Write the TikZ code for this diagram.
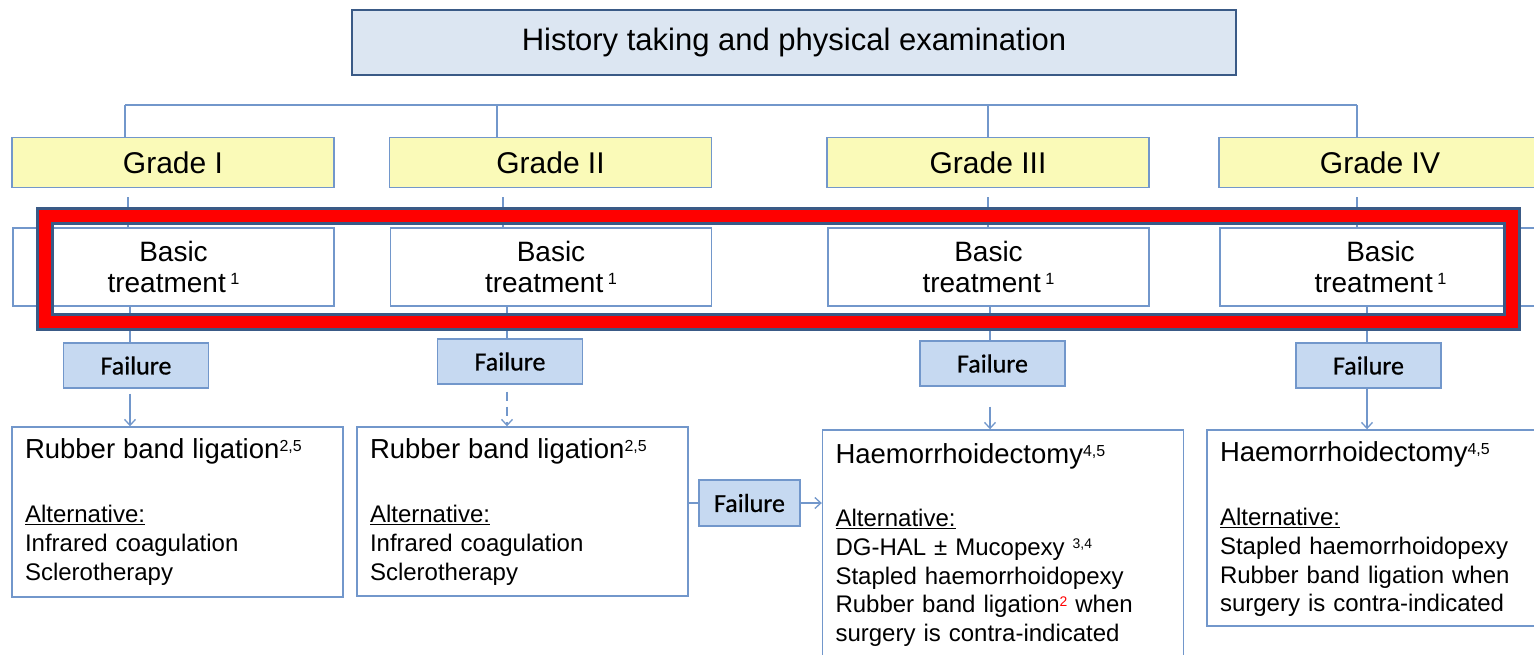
\documentclass[tikz,border=0pt]{standalone}
\usepackage{fontspec}
\setmainfont{Liberation Sans}
\newfontfamily\califont[FakeBold=0.7]{Carlito}
\usepackage{graphicx}
\usepackage{tikz}
\usetikzlibrary{positioning}
\usetikzlibrary{arrows.meta}
\usepackage{xcolor}
\definecolor{boxline}{HTML}{7297CB}
\definecolor{darkline}{HTML}{3A5A86}
\definecolor{titlefill}{HTML}{DCE6F2}
\definecolor{gradefill}{HTML}{FAFAB8}
\definecolor{failfill}{HTML}{C6D9F1}
\definecolor{framered}{HTML}{FF0000}
\setlength{\parindent}{0pt}
\newcommand{\supsc}[1]{\raisebox{0.27em}{\scalebox{0.58}{#1}}}

\begin{document}
\begin{tikzpicture}[x = 1pt, y = -1pt,
  every node/.style = {draw = boxline, line width = 1.4pt, inner sep = 0pt},
  head/.style = {draw = darkline, line width = 2.6pt, fill = titlefill,
    minimum width = 884pt, minimum height = 65pt, font = \fontsize{31}{36}\selectfont},
  grade/.style = {fill = gradefill, minimum width = 322pt, minimum height = 50pt,
    font = \fontsize{30}{34}\selectfont},
  basic/.style = {fill = white, minimum width = 321pt, minimum height = 78pt,
    align = center, font = \fontsize{28}{31}\selectfont},
  fail/.style = {fill = failfill, minimum width = 145pt, minimum height = 45pt,
    font = \califont\fontsize{26}{30}\selectfont},
  treat/.style = {fill = white},
  treattext/.style = {draw = none, anchor = north west, text width = 345pt,
    align = left, font = \fontsize{24}{28.7}\selectfont},
  link/.style = {draw = boxline, line width = 1.3pt},
  linkarrow/.style = {link, -{Straight Barb[length = 6pt, width = 11pt]}}
]
\useasboundingbox (0,0) rectangle (1534,654);

\node[head] (hist) at (794,42.5) {History taking and physical examination};

\node[grade] (g1) at (173,162.5) {Grade I};
\node[grade] (g2) at (550.5,162.5) {Grade II};
\node[grade] (g3) at (988,162.5) {Grade III};
\node[grade] (g4) at (1380,162.5) {Grade IV};

\node[basic] (b1) at (173.5,267) {Basic\\treatment\,\supsc{1}};
\node[basic] (b2) at (551,267) {Basic\\treatment\,\supsc{1}};
\node[basic] (b3) at (988.5,267) {Basic\\treatment\,\supsc{1}};
\node[basic] (b4) at (1380.5,267) {Basic\\treatment\,\supsc{1}};

\node[fail] (f1) at (136,365.5) {Failure};
\node[fail] (f2) at (510,361.5) {Failure};
\node[fail] (f3) at (992.5,363.5) {Failure};
\node[fail] (f4) at (1368.5,365.5) {Failure};

\node[treat, minimum width = 331pt, minimum height = 170pt] (t1) at (177.5,512) {};
\node[treat, minimum width = 331pt, minimum height = 169pt] (t2) at (522.5,511.5) {};
\node[treat, minimum width = 361pt, minimum height = 250pt] (t3) at (1003,555) {};
\node[treat, minimum width = 338pt, minimum height = 196pt] (t4) at (1376,528) {};
\node[fail, minimum width = 101pt, minimum height = 46pt] (fm) at (749.5,503) {Failure};

\node[treattext] (tx1) at ([shift = {(13,12)}]t1.north west) {%
  {\fontsize{27.5}{32}\selectfont Rubber band ligation\supsc{2,5}\par}
  \vspace{35pt}
  \underline{Alternative:}\\
  Infrared coagulation\\
  Sclerotherapy};
\node[treattext] (tx2) at ([shift = {(13,12)}]t2.north west) {%
  {\fontsize{27.5}{32}\selectfont Rubber band ligation\supsc{2,5}\par}
  \vspace{35pt}
  \underline{Alternative:}\\
  Infrared coagulation\\
  Sclerotherapy};
\node[treattext] (tx3) at ([shift = {(13,14)}]t3.north west) {%
  {\fontsize{27.5}{32}\selectfont Haemorrhoidectomy\supsc{4,5}\par}
  \vspace{34pt}
  \underline{Alternative:}\\
  DG-HAL ± Mucopexy \supsc{3,4}\\
  Stapled haemorrhoidopexy\\
  Rubber band ligation\supsc{\textcolor{framered}{2}} when\\
  surgery is contra-indicated};
\node[treattext] (tx4) at ([shift = {(13,12)}]t4.north west) {%
  {\fontsize{27.5}{32}\selectfont Haemorrhoidectomy\supsc{4,5}\par}
  \vspace{35pt}
  \underline{Alternative:}\\
  Stapled haemorrhoidopexy\\
  Rubber band ligation when\\
  surgery is contra-indicated};

% bus above the grades
\coordinate (c1) at (125,105);
\coordinate (c2) at (497,105);
\coordinate (c3) at (988,105);
\coordinate (c4) at (1357,105);
\draw[link] (c1) -- (c4);
\draw[link] (c1) -- (c1 |- g1.north);
\draw[link] (c2) -- (c2 |- g2.north);
\draw[link] (c3) -- (c3 |- g3.north);
\draw[link] (c4) -- (c4 |- g4.north);

% columns of the connectors
\coordinate (k1) at (128,0);
\coordinate (k2) at (503,0);
\coordinate (k3) at (988,0);
\coordinate (k4) at (1357,0);
\coordinate (m1) at (130,0);
\coordinate (m2) at (507,0);
\coordinate (m3) at (990,0);
\coordinate (m4) at (1367,0);

\draw[link, shorten <= 9pt] (g1.south -| k1) -- (b1.north -| k1);
\draw[link, shorten <= 9pt] (g2.south -| k2) -- (b2.north -| k2);
\draw[link, shorten <= 9pt] (g3.south -| k3) -- (b3.north -| k3);
\draw[link, shorten <= 9pt] (g4.south -| k4) -- (b4.north -| k4);

\draw[link] (b1.south -| m1) -- (f1.north -| m1);
\draw[link] (b2.south -| m2) -- (f2.north -| m2);
\draw[link] (b3.south -| m3) -- (f3.north -| m3);
\draw[link] (b4.south -| m4) -- (f4.north -| m4);

\draw[linkarrow, shorten <= 5pt] (f1.south -| m1) -- (t1.north -| m1);
\draw[linkarrow, dash pattern = on 9pt off 6pt, shorten <= 7pt] (f2.south -| m2) -- (t2.north -| m2);
\draw[linkarrow, shorten <= 20pt] (f3.south -| m3) -- (t3.north -| m3);
\draw[linkarrow] (f4.south -| m4) -- (t4.north -| m4);

\draw[link] (fm.west -| t2.east) -- (fm.west);
\draw[linkarrow] (fm.east) -- (fm.east -| t3.west);

% red frame round the basic treatments
\draw[darkline, line width = 18pt] (45,216) rectangle (1512,322);
\draw[framered, line width = 12pt] (45,216) rectangle (1512,322);
\end{tikzpicture}
\end{document}
